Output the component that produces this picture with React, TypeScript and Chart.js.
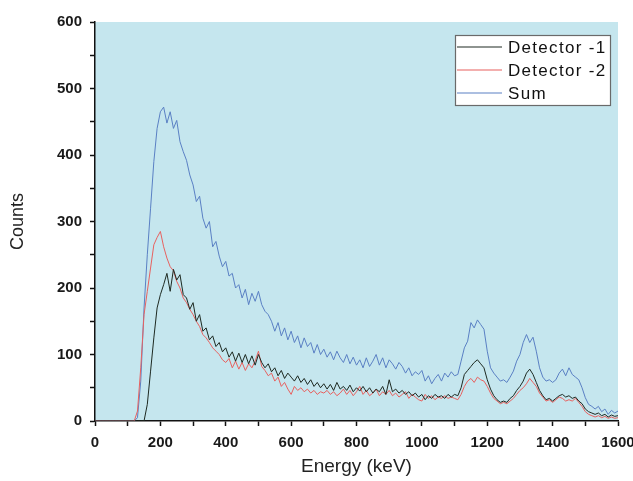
import React, { useEffect, useRef } from "react";
import { Chart, registerables } from "chart.js";

Chart.register(...registerables);

// Energy channels (keV)
const ENERGY = [
  0, 10, 20, 30, 40, 50, 60, 70, 80, 90,
  100, 110, 120, 130, 140, 150, 160, 170, 180, 190,
  200, 210, 220, 230, 240, 250, 260, 270, 280, 290,
  300, 310, 320, 330, 340, 350, 360, 370, 380, 390,
  400, 410, 420, 430, 440, 450, 460, 470, 480, 490,
  500, 510, 520, 530, 540, 550, 560, 570, 580, 590,
  600, 610, 620, 630, 640, 650, 660, 670, 680, 690,
  700, 710, 720, 730, 740, 750, 760, 770, 780, 790,
  800, 810, 820, 830, 840, 850, 860, 870, 880, 890,
  900, 910, 920, 930, 940, 950, 960, 970, 980, 990,
  1000, 1010, 1020, 1030, 1040, 1050, 1060, 1070, 1080, 1090,
  1100, 1110, 1120, 1130, 1140, 1150, 1160, 1170, 1180, 1190,
  1200, 1210, 1220, 1230, 1240, 1250, 1260, 1270, 1280, 1290,
  1300, 1310, 1320, 1330, 1340, 1350, 1360, 1370, 1380, 1390,
  1400, 1410, 1420, 1430, 1440, 1450, 1460, 1470, 1480, 1490,
  1500, 1510, 1520, 1530, 1540, 1550, 1560, 1570, 1580, 1590,
  1600,
];

const DETECTOR_1 = [
  0, 0, 0, 0, 0, 0, 0, 0, 0, 0,
  0, 0, 0, 0, 0, 0, 25, 75, 125, 170,
  190, 205, 222, 195, 228, 212, 220, 190, 185, 168,
  178, 150, 160, 135, 140, 122, 128, 112, 118, 104,
  110, 96, 104, 90, 102, 88, 100, 86, 98, 84,
  100, 88, 80, 86, 74, 80, 68, 76, 64, 72,
  66, 60, 68, 58, 64, 55, 62, 52, 58, 50,
  56, 48, 55, 46, 58, 48, 52, 46, 54, 44,
  50, 45, 52, 44, 50, 42, 48, 44, 52, 40,
  62, 44, 48, 42, 46, 40, 44, 38, 42, 36,
  40, 32, 38, 34, 40, 36, 38, 34, 40, 36,
  40, 38, 50, 70, 76, 82, 88, 92, 86, 80,
  62, 48, 38, 32, 28, 30, 28, 34, 38, 46,
  52, 60, 72, 78, 70, 58, 46, 38, 32, 34,
  30, 34, 38, 40, 36, 38, 34, 36, 30, 26,
  18, 14, 12, 10, 12, 8, 10, 6, 9, 7,
  8,
];

const DETECTOR_2 = [
  0, 0, 0, 0, 0, 0, 0, 0, 0, 0,
  0, 0, 0, 15, 80, 160, 195, 230, 265, 276,
  285, 262, 245, 232, 226, 210, 200, 185, 178, 168,
  160, 150, 142, 130, 125, 118, 110, 105, 100, 92,
  88, 94, 80, 90, 78, 88, 76, 86, 80, 90,
  105, 82, 76, 68, 72, 60, 66, 52, 58, 48,
  40, 52, 46, 50, 44, 48, 42, 46, 40, 44,
  42, 46, 40, 44, 38, 42, 48, 40, 46, 38,
  44, 52, 40, 46, 38, 42, 48, 38, 44, 40,
  46, 38, 42, 36, 40, 44, 34, 40, 36, 32,
  30, 40, 34, 38, 32, 36, 34, 38, 34, 36,
  34, 32, 40, 52, 60, 64, 58, 66, 62, 60,
  52, 42, 34, 30, 26, 28, 26, 30, 34, 40,
  46, 50, 56, 64, 58, 52, 42, 36, 30, 32,
  28, 32, 36, 34, 30, 32, 30, 34, 28, 22,
  14, 10, 8, 6, 8, 5, 7, 4, 6, 4,
  5,
];

const SUM = [
  0, 0, 0, 0, 0, 0, 0, 0, 0, 0,
  0, 0, 0, 5, 60, 170, 250, 320, 390, 440,
  465, 472, 448, 465, 440, 452, 420, 405, 392, 370,
  355, 330, 338, 305, 290, 300, 262, 270, 248, 232,
  240, 218, 222, 200, 205, 185, 198, 175, 192, 180,
  195, 175, 165, 160, 150, 135, 148, 128, 140, 122,
  135, 118, 128, 110, 125, 112, 118, 102, 115, 100,
  108, 96, 104, 92, 105, 95, 88, 100, 86, 96,
  84, 92, 80, 95, 82, 90, 100, 84, 95, 80,
  92, 86, 78, 88, 82, 72, 80, 68, 74, 70,
  76, 60, 68, 56, 64, 70, 60, 72, 66, 74,
  68, 70, 90, 110, 120, 148, 140, 152, 145, 138,
  105, 80, 72, 66, 60, 62, 58, 66, 75, 90,
  100, 118, 130, 118, 126, 105, 80, 66, 60, 62,
  58, 62, 72, 78, 68, 80, 70, 66, 62, 50,
  35, 25, 22, 18, 22, 14, 18, 10, 16, 12,
  15,
];

const SERIES_LABELS = ["Detector -1", "Detector -2", "Sum"];
const SERIES_COLORS = ["#1e2a22", "#e8615f", "#5a80c4"];
const X_TICK_LABELS = [0, 200, 400, 600, 800, 1000, 1200, 1400, 1600];
const Y_TICK_LABELS = [0, 100, 200, 300, 400, 500, 600];

const toPoints = (ys: number[]) => ENERGY.map((x, i) => ({ x, y: ys[i] }));

const bgPlugin = {
  id: "plotBg",
  beforeDraw(chart: any) {
    const { ctx, chartArea } = chart;
    ctx.save();
    ctx.fillStyle = "#c5e6ee";
    ctx.fillRect(chartArea.left, chartArea.top, chartArea.right - chartArea.left, chartArea.bottom - chartArea.top);
    ctx.restore();
  },
};

const legendPlugin = {
  id: "boxLegend",
  afterDraw(chart: any) {
    const { ctx, chartArea } = chart;
    const w = 155;
    const h = 70;
    const x0 = chartArea.right - 8 - w;
    const y0 = chartArea.top + 13;
    ctx.save();
    ctx.fillStyle = "#ffffff";
    ctx.fillRect(x0, y0, w, h);
    ctx.strokeStyle = "#6a6a6a";
    ctx.lineWidth = 1.2;
    ctx.strokeRect(x0 + 0.5, y0 + 0.5, w, h);
    ctx.font = "17px 'Liberation Sans', Arial, sans-serif";
    (ctx as any).letterSpacing = "1.3px";
    ctx.textBaseline = "middle";
    ctx.textAlign = "left";
    chart.data.datasets.forEach((ds: any, i: number) => {
      const y = y0 + 12 + i * 23;
      ctx.strokeStyle = ds.borderColor;
      ctx.lineWidth = 1.2;
      ctx.beginPath();
      ctx.moveTo(x0 + 2, y);
      ctx.lineTo(x0 + 47, y);
      ctx.stroke();
      ctx.fillStyle = "#111";
      ctx.fillText(ds.label, x0 + 53, y + 1);
    });
    ctx.restore();
  },
};

export default function App() {
  const canvasRef = useRef<HTMLCanvasElement | null>(null);

  useEffect(() => {
    if (!canvasRef.current) return;
    const series = [DETECTOR_1, DETECTOR_2, SUM];
    const chart = new Chart(canvasRef.current, {
      type: "line",
      data: {
        datasets: series.map((s, i) => ({
          label: SERIES_LABELS[i],
          data: toPoints(s),
          borderColor: SERIES_COLORS[i],
          backgroundColor: SERIES_COLORS[i],
          borderWidth: 1,
          pointRadius: 0,
          tension: 0,
          fill: false,
        })),
      },
      options: {
        animation: false,
        responsive: true,
        maintainAspectRatio: false,
        layout: { padding: { left: 0, right: 15, top: 22, bottom: 0 } },
        plugins: { legend: { display: false }, tooltip: { enabled: false } },
        scales: {
          x: {
            type: "linear",
            min: 0,
            max: 1600,
            afterFit: (scale: any) => {
              scale.height = 60;
              scale.paddingLeft = 0;
              scale.paddingRight = 0;
            },
            afterBuildTicks: (scale: any) => {
              const t: any[] = [];
              for (let v = 0; v <= 1600; v += 100) t.push({ value: v });
              scale.ticks = t;
            },
            ticks: {
              autoSkip: false,
              maxRotation: 0,
              padding: 8,
              color: "#1a1a1a",
              font: { family: "'Liberation Sans', Arial, sans-serif", size: 15, weight: "bold" },
              callback: (v: any) => (X_TICK_LABELS.includes(Number(v)) ? String(v) : ""),
            },
            grid: { drawOnChartArea: false, drawTicks: true, tickLength: 5, tickColor: "#111", tickWidth: 1.5 },
            border: { display: true, color: "#111", width: 1.5 },
            title: {
              display: true,
              text: "Energy (keV)",
              color: "#222",
              font: { family: "'Liberation Sans', Arial, sans-serif", size: 19 },
              padding: { top: 0, bottom: 3 },
            },
          },
          y: {
            type: "linear",
            min: 0,
            max: 600,
            afterFit: (scale: any) => {
              scale.width = 95;
              scale.paddingTop = 0;
              scale.paddingBottom = 0;
            },
            afterBuildTicks: (scale: any) => {
              const t: any[] = [];
              for (let v = 0; v <= 600; v += 50) t.push({ value: v });
              scale.ticks = t;
            },
            ticks: {
              autoSkip: false,
              padding: 8,
              color: "#1a1a1a",
              font: { family: "'Liberation Sans', Arial, sans-serif", size: 15, weight: "bold" },
              callback: (v: any) => (Y_TICK_LABELS.includes(Number(v)) ? String(v) : ""),
            },
            grid: { drawOnChartArea: false, drawTicks: true, tickLength: 5, tickColor: "#111", tickWidth: 1.5 },
            border: { display: true, color: "#111", width: 1.5 },
            title: {
              display: true,
              text: "Counts",
              color: "#222",
              font: { family: "'Liberation Sans', Arial, sans-serif", size: 18 },
              padding: { top: 7, bottom: 0 },
            },
          },
        },
      },
      plugins: [bgPlugin, legendPlugin],
    } as any);
    return () => chart.destroy();
  }, []);

  return (
    <div style={{ position: "absolute", left: 0, top: 0, width: 633, height: 481, background: "#fff" }}>
      <canvas ref={canvasRef} />
    </div>
  );
}
